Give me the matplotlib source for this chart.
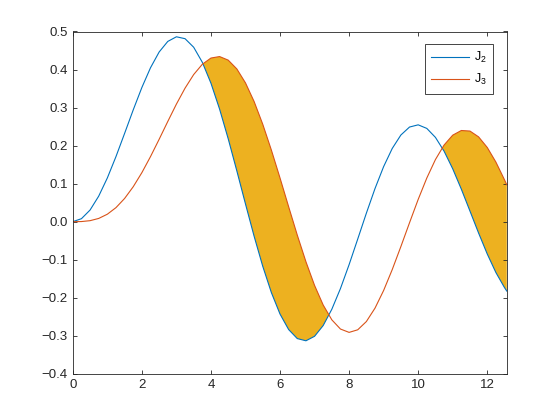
import matplotlib.pyplot as plt
import numpy as np

# x samples (0 .. 4*pi)
x = [0.0, 0.25, 0.5, 0.75, 1.0, 1.25, 1.5, 1.75, 2.0, 2.25, 2.5, 2.75,
     3.0, 3.25, 3.5, 3.75, 4.0, 4.25, 4.5, 4.75, 5.0, 5.25, 5.5, 5.75,
     6.0, 6.25, 6.5, 6.75, 7.0, 7.25, 7.5, 7.75, 8.0, 8.25, 8.5, 8.75,
     9.0, 9.25, 9.5, 9.75, 10.0, 10.25, 10.5, 10.75, 11.0, 11.25, 11.5,
     11.75, 12.0, 12.25, 12.5, 12.566]

j2 = [0.0, 0.0078, 0.0306, 0.0671, 0.1149, 0.1711, 0.2321, 0.2940, 0.3528,
      0.4047, 0.4461, 0.4739, 0.4861, 0.4811, 0.4586, 0.4191, 0.3641,
      0.2960, 0.2179, 0.1334, 0.0466, -0.0383, -0.1173, -0.1865, -0.2429,
      -0.2837, -0.3074, -0.3132, -0.3014, -0.2731, -0.2303, -0.1758,
      -0.1130, -0.0457, 0.0223, 0.0870, 0.1448, 0.1926, 0.2279, 0.2488,
      0.2546, 0.2452, 0.2216, 0.1854, 0.1391, 0.0854, 0.0279, -0.0300,
      -0.0849, -0.1336, -0.1734, -0.1825]

j3 = [0.0, 0.0003, 0.0026, 0.0085, 0.0196, 0.0369, 0.0610, 0.0919, 0.1289,
      0.1711, 0.2166, 0.2634, 0.3091, 0.3510, 0.3868, 0.4138, 0.4302,
      0.4341, 0.4247, 0.4015, 0.3648, 0.3158, 0.2561, 0.1881, 0.1148,
      0.0391, -0.0354, -0.1053, -0.1676, -0.2192, -0.2581, -0.2823,
      -0.2911, -0.2843, -0.2626, -0.2274, -0.1809, -0.1258, -0.0653,
      -0.0028, 0.0584, 0.1147, 0.1633, 0.2014, 0.2274, 0.2397, 0.2382,
      0.2229, 0.1951, 0.1567, 0.1100, 0.0968]

blue = '#0072BD'
orange = '#D95319'
gold = '#EDB120'

plt.rcParams['font.family'] = 'Liberation Sans'
plt.rcParams['mathtext.fontset'] = 'custom'
plt.rcParams['mathtext.rm'] = 'Liberation Sans'
plt.rcParams['mathtext.it'] = 'Liberation Sans'

fig = plt.figure(figsize=(5.6, 4.2), dpi=100)
ax = fig.add_axes([0.13, 0.11, 0.775, 0.815])

xa = np.array(x)
a2 = np.array(j2)
a3 = np.array(j3)
ax.fill_between(xa, a2, a3, where=a3 > a2, interpolate=True,
                color=gold, linewidth=0, zorder=1)
ax.plot(xa, a2, color=blue, linewidth=0.8, label='J$_2$', zorder=2)
ax.plot(xa, a3, color=orange, linewidth=0.8, label='J$_3$', zorder=2)

ax.set_xlim(0, 4 * np.pi)
ax.set_ylim(-0.4, 0.5)
ax.set_xticks(np.arange(0, 13, 2))
ax.set_yticks(np.round(np.arange(-0.4, 0.51, 0.1), 1))
ax.tick_params(direction='in', top=True, right=True, labelsize=9.5,
               length=3, width=0.6, colors='#262626', labelcolor='#262626')
for s in ax.spines.values():
    s.set_linewidth(0.6)
    s.set_color('#262626')

leg = ax.legend(loc='upper right', bbox_to_anchor=(0.968, 0.9635),
                borderaxespad=0, fontsize=9, fancybox=False, framealpha=1,
                edgecolor='#262626', handlelength=3.0, borderpad=0.5,
                labelspacing=0.55, handletextpad=0.4)
leg.get_frame().set_linewidth(0.6)

fig.savefig('out.png', dpi=100)
